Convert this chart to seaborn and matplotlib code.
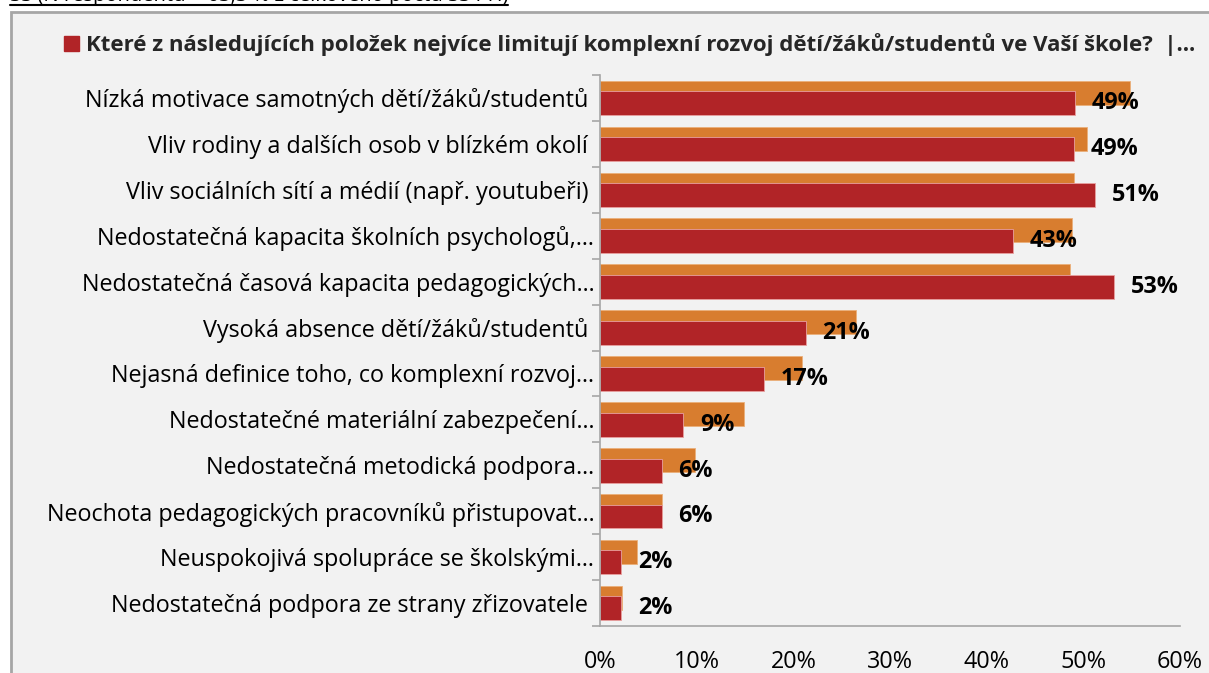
import matplotlib
matplotlib.use("Agg")
import matplotlib.pyplot as plt
import matplotlib.patches as mpatches
from matplotlib.lines import Line2D
from matplotlib.ticker import FixedLocator, PercentFormatter
import pandas as pd
import seaborn as sns

# Data
categories = [
    "Nízká motivace samotných dětí/žáků/studentů ",
    "Vliv rodiny a dalších osob v blízkém okolí ",
    "Vliv sociálních sítí a médií (např. youtubeři) ",
    "Nedostatečná kapacita školních psychologů,…",
    "Nedostatečná časová kapacita pedagogických…",
    "Vysoká absence dětí/žáků/studentů ",
    "Nejasná definice toho, co komplexní rozvoj…",
    "Nedostatečné materiální zabezpečení…",
    "Nedostatečná metodická podpora…",
    "Neochota pedagogických pracovníků přistupovat…",
    "Neuspokojivá spolupráce se školskými…",
    "Nedostatečná podpora ze strany zřizovatele ",
]
orange_values = [54.8, 50.4, 49.0, 48.8, 48.6, 26.5, 20.9, 14.9, 9.8, 6.4, 3.8, 2.3]
red_values = [49.1, 49.0, 51.2, 42.7, 53.2, 21.3, 17.0, 8.6, 6.4, 6.4, 2.2, 2.2]
x_ticks = [0, 10, 20, 30, 40, 50, 60]

orange_name = "Celkem"
red_name = ("Které z následujících položek nejvíce limitují komplexní rozvoj "
            "dětí/žáků/studentů ve Vaší škole?  |…")
header_text = "SŠ (N respondentů = 63,3 % z celkového počtu SŠ PH)"

ORANGE = "#D87D2F"
RED = "#B12427"
GRAY = "#A6A6A6"
FS = 16.8

sns.set_style("white")
plt.rcParams["font.family"] = ["Open Sans", "DejaVu Sans"]

df = pd.DataFrame({
    "kategorie": categories * 2,
    "serie": [orange_name] * len(categories) + [red_name] * len(categories),
    "hodnota": orange_values + red_values,
})

W, H = 1209, 673
fig = plt.figure(figsize=(W / 100, H / 100), dpi=100, facecolor="white")

# chart area frame (light gray, cut off at right and bottom)
frame = mpatches.Rectangle((11 / W, -0.05), 1.2, 1 - 12 / H + 0.05,
                           transform=fig.transFigure, facecolor="#F2F2F2",
                           edgecolor=GRAY, linewidth=2, zorder=-5)
fig.add_artist(frame)

ax = fig.add_axes([600 / W, 1 - 626 / H, 580 / W, (626 - 75) / H])
ax.set_facecolor("none")

sns.barplot(data=df, y="kategorie", x="hodnota", hue="serie",
            hue_order=[orange_name, red_name], palette=[ORANGE, RED],
            orient="h", width=0.46, gap=-1.26, dodge=True, saturation=1,
            legend=False, edgecolor="#E8A0A0", linewidth=0.6, ax=ax)

# orange bar edges lighter orange
for p in ax.containers[0]:
    p.set_edgecolor("#EBAF7A")

ax.bar_label(ax.containers[1], labels=[f"{v:.0f}%" for v in red_values],
             padding=12, fontsize=FS, fontweight="bold", color="black")

ax.set_xlim(0, 60)
ax.set_ylim(len(categories) - 0.5, -0.5)
ax.xaxis.set_major_locator(FixedLocator(x_ticks))
ax.xaxis.set_major_formatter(PercentFormatter(decimals=0))
ax.yaxis.set_minor_locator(FixedLocator([i - 0.5 for i in range(len(categories) + 1)]))
ax.set_xlabel("")
ax.set_ylabel("")

for side in ["top", "right"]:
    ax.spines[side].set_visible(False)
for side in ["left", "bottom"]:
    ax.spines[side].set_color(GRAY)
    ax.spines[side].set_linewidth(1.2)

ax.tick_params(axis="x", which="major", direction="out", length=6, width=1.2,
               color=GRAY, labelsize=FS, pad=11, labelcolor="black")
ax.tick_params(axis="y", which="major", length=0, labelsize=FS, pad=4,
               labelcolor="black")
ax.tick_params(axis="y", which="minor", direction="out", length=6, width=1.2,
               color=GRAY, left=True)

handle = mpatches.Patch(facecolor=RED, edgecolor=RED)
fig.legend([handle], [red_name], loc="center left",
           bbox_to_anchor=(44 / W, 1 - 45 / H), frameon=False,
           handlelength=0.68, handleheight=0.68, handletextpad=0.3,
           prop={"size": 16.0, "weight": "bold"})

# header line above the chart, mostly cut off by the image edge
hdr = fig.text(10 / W, 1 - 1.5 / H, header_text, fontsize=14.5, ha="left",
               va="baseline", color="black")
fig.canvas.draw()
bb = hdr.get_window_extent()
fig.add_artist(Line2D([bb.x0 / W, bb.x1 / W], [1 - 4.5 / H, 1 - 4.5 / H],
                      transform=fig.transFigure, color="black", linewidth=1.5))

fig.savefig("out.png", dpi=100, facecolor="white")
